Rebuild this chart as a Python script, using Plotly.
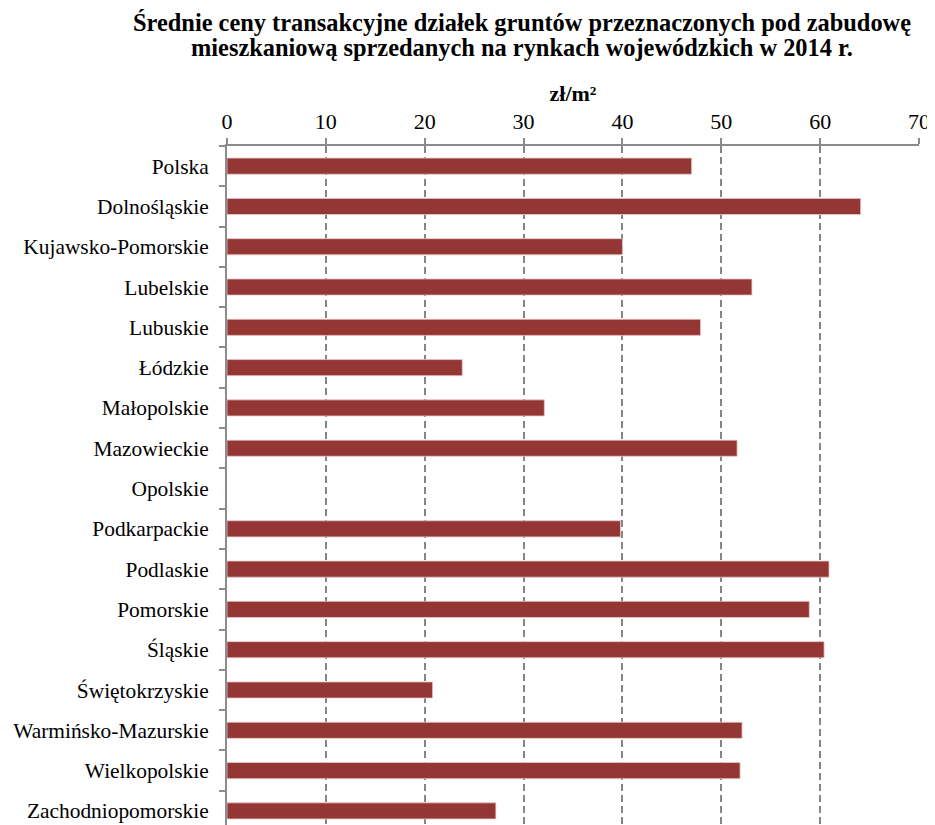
import plotly.graph_objects as go

wojewodztwa = ['Polska', 'Dolnośląskie', 'Kujawsko-Pomorskie', 'Lubelskie', 'Lubuskie',
               'Łódzkie', 'Małopolskie', 'Mazowieckie', 'Opolskie', 'Podkarpackie',
               'Podlaskie', 'Pomorskie', 'Śląskie', 'Świętokrzyskie',
               'Warmińsko-Mazurskie', 'Wielkopolskie', 'Zachodniopomorskie']
ceny = [47.0, 64.1, 40.0, 53.1, 47.9, 23.8, 32.1, 51.6, None, 39.8,
        60.9, 58.9, 60.4, 20.8, 52.1, 51.9, 27.2]

tytul = ['Średnie ceny transakcyjne działek gruntów przeznaczonych pod zabudowę',
         'mieszkaniową sprzedanych na rynkach wojewódzkich w 2014 r.']

font = 'Liberation Serif, Times New Roman, serif'

fig = go.Figure()
fig.add_trace(go.Bar(
    y=wojewodztwa,
    x=ceny,
    orientation='h',
    width=0.4,
    marker=dict(color='#943634', line=dict(color='#e8c8c8', width=0.8)),
))

# page body has an 8px default margin, so the figure is 8px smaller
fig.update_layout(
    width=927,
    height=817,
    margin=dict(l=219, r=16, t=138, b=0),
    paper_bgcolor='white',
    plot_bgcolor='white',
    showlegend=False,
    font=dict(family=font, size=21, color='black'),
)

# two title lines placed separately to get the tight line spacing
for linia, yy in zip(tytul, [1.1826, 1.1458]):
    fig.add_annotation(
        text='<b>' + linia + '</b>',
        xref='paper', yref='paper', x=0.4256, y=yy,
        xanchor='center', yanchor='middle', showarrow=False,
        font=dict(family=font, size=24.4, color='black'),
    )

fig.update_xaxes(
    side='top',
    range=[0, 70],
    dtick=10,
    automargin=False,
    showgrid=True,
    gridcolor='#858585',
    griddash='7px,4px',
    gridwidth=2,
    showline=True,
    linecolor='#8c8c8c',
    linewidth=2,
    ticks='outside',
    ticklen=6,
    tickcolor='#8c8c8c',
    tickwidth=2,
    zeroline=False,
    title=dict(text='<b>zł/m²</b>', font=dict(family=font, size=22), standoff=2),
    tickfont=dict(family=font, size=22),
)

fig.update_yaxes(
    type='category',
    categoryorder='array',
    categoryarray=wojewodztwa,
    range=[16.35, -0.5],
    automargin=False,
    showline=True,
    linecolor='#8c8c8c',
    linewidth=2,
    ticks='outside',
    tickson='boundaries',
    ticklen=6,
    tickcolor='#8c8c8c',
    tickwidth=2,
    showgrid=False,
    ticklabelstandoff=12,
    tickfont=dict(family=font, size=21.4),
)

fig.write_html('out.html')
